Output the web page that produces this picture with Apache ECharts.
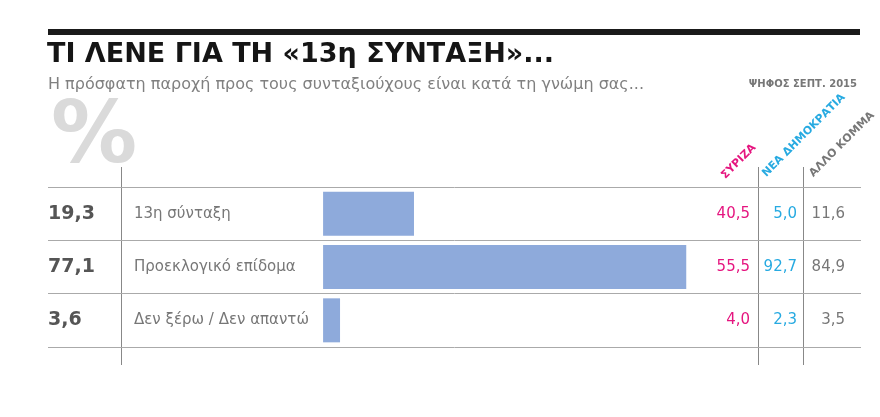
<!DOCTYPE html>
<html>
<head>
<meta charset="utf-8">
<script src="https://cdn.jsdelivr.net/npm/echarts@6/dist/echarts.min.js"></script>
<style>
html,body{margin:0;padding:0;background:#fff;}
#chart{width:880px;height:417px;}
</style>
</head>
<body>
<div id="chart"></div>
<script>
const categories = ['13η σύνταξη', 'Προεκλογικό επίδομα', 'Δεν ξέρω / Δεν απαντώ'];
const totals = [19.3, 77.1, 3.6];
const syriza = [40.5, 55.5, 4.0];
const nd = [5.0, 92.7, 2.3];
const other = [11.6, 84.9, 3.5];
const partyLabels = ['ΣΥΡΙΖΑ', 'ΝΕΑ ΔΗΜΟΚΡΑΤΙΑ', 'ΑΛΛΟ ΚΟΜΜΑ'];
const titleText = 'ΤΙ ΛΕΝΕ ΓΙΑ ΤΗ «13η ΣΥΝΤΑΞΗ»...';
const subtitleText = 'Η πρόσφατη παροχή προς τους συνταξιούχους είναι κατά τη γνώμη σας...';
const sourceText = 'ΨΗΦΟΣ ΣΕΠΤ. 2015';

const FONT = '"DejaVu Sans", sans-serif';
const fmt = v => v.toFixed(1).replace('.', ',');

const chart = echarts.init(document.getElementById('chart'), null, {renderer: 'canvas'});

const option = {
  animation: false,
  backgroundColor: '#fff',
  textStyle: {fontFamily: FONT},
  title: [
    {text: titleText, left: 47, top: 41, padding: 0,
     textStyle: {fontSize: 27, fontWeight: 'bold', color: '#151515', fontFamily: FONT}},
    {text: subtitleText, left: 48, top: 77, padding: 0,
     textStyle: {fontSize: 16, fontWeight: 'normal', color: '#808080', fontFamily: FONT}},
    {text: sourceText, right: 23, top: 79.5, padding: 0,
     textStyle: {fontSize: 10, fontWeight: 'bold', color: '#777', fontFamily: FONT}},
    {text: '%', left: 51, top: 97, padding: 0,
     textStyle: {fontSize: 86, fontWeight: 'bold', color: '#dadada', fontFamily: FONT}}
  ],
  grid: {left: 48, right: 19, top: 187, height: 160, containLabel: false},
  xAxis: {type: 'value', min: -58.4, max: 114.2, show: false},
  yAxis: [
    {
      type: 'category', data: categories, inverse: true,
      axisLine: {show: false}, axisTick: {show: false},
      splitLine: {show: true, lineStyle: {color: '#aaa', width: 1}},
      axisLabel: {
        inside: true, margin: 0,
        formatter: (val, idx) => `{v|${fmt(totals[idx])}}{l|${val}}`,
        rich: {
          v: {width: 86, fontSize: 19, fontWeight: 'bold', color: '#555', fontFamily: FONT},
          l: {fontSize: 15, color: '#777', fontFamily: FONT}
        }
      }
    },
    {
      type: 'category', data: categories, inverse: true, position: 'right',
      axisLine: {show: false}, axisTick: {show: false}, splitLine: {show: false},
      axisLabel: {
        inside: true, margin: 16,
        formatter: (val, idx) => `{a|${fmt(syriza[idx])}}{b|${fmt(nd[idx])}}{c|${fmt(other[idx])}}`,
        rich: {
          a: {width: 60, align: 'right', fontSize: 15, color: '#e5157f', fontFamily: FONT},
          b: {width: 47, align: 'right', fontSize: 15, color: '#27aae1', fontFamily: FONT},
          c: {width: 48, align: 'right', fontSize: 15, color: '#777', fontFamily: FONT}
        }
      }
    }
  ],
  series: [{
    type: 'bar', data: totals, xAxisIndex: 0, yAxisIndex: 0,
    barWidth: 44, silent: true,
    itemStyle: {color: '#8eaadb'}
  }],
  graphic: [
    {type: 'rect', shape: {x: 48, y: 29, width: 812, height: 6}, style: {fill: '#1a1a1a'}, silent: true},
    {type: 'line', shape: {x1: 121.5, y1: 167, x2: 121.5, y2: 365}, style: {stroke: '#888', lineWidth: 1}, silent: true},
    {type: 'line', shape: {x1: 758.5, y1: 167, x2: 758.5, y2: 365}, style: {stroke: '#888', lineWidth: 1}, silent: true},
    {type: 'line', shape: {x1: 803.5, y1: 167, x2: 803.5, y2: 365}, style: {stroke: '#888', lineWidth: 1}, silent: true},
    {type: 'text', x: 727, y: 181, rotation: Math.PI / 4,
     style: {text: partyLabels[0], fill: '#e5157f', font: 'bold 11px ' + FONT, textAlign: 'left', textVerticalAlign: 'bottom'}},
    {type: 'text', x: 768, y: 179, rotation: Math.PI / 4,
     style: {text: partyLabels[1], fill: '#27aae1', font: 'bold 11px ' + FONT, textAlign: 'left', textVerticalAlign: 'bottom'}},
    {type: 'text', x: 815, y: 179, rotation: Math.PI / 4,
     style: {text: partyLabels[2], fill: '#777', font: 'bold 11px ' + FONT, textAlign: 'left', textVerticalAlign: 'bottom'}}
  ]
};
chart.setOption(option);
</script>
</body>
</html>
